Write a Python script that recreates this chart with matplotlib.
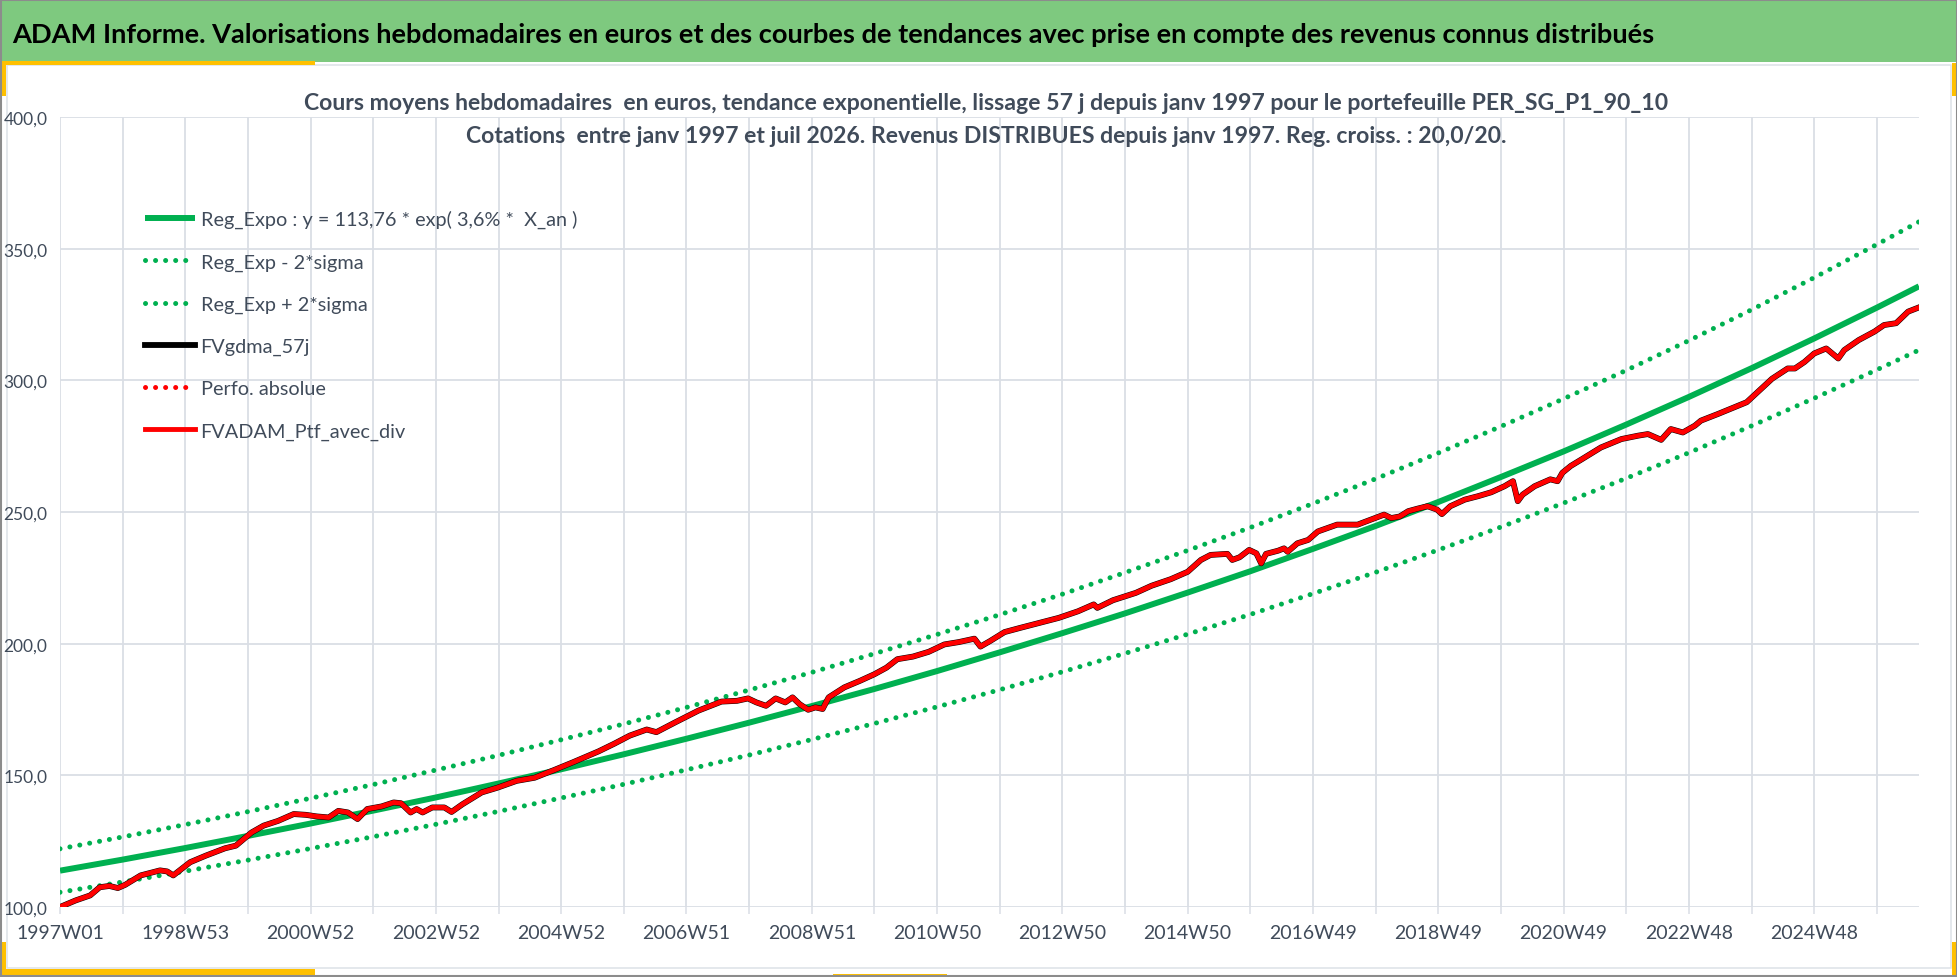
import numpy as np
import matplotlib
matplotlib.use('Agg')
import matplotlib.pyplot as plt
from matplotlib.patches import Rectangle

# ---- colours / fonts ------------------------------------------------------
GREEN = '#00B050'
RED = '#FF0000'
BLACK = '#000000'
HEADER = '#7EC97F'
YELLOW = '#FFC000'
GRID = '#DADEE5'
INK = '#404B5A'
NARROW = ['Liberation Sans Narrow', 'Lato', 'DejaVu Sans']
HEAD_FONT = ['Lato', 'DejaVu Sans']

# ---- data ----------------------------------------------------------------
# x = week index since 1997W01
red_weeks = [0, 13, 25, 33, 41, 48, 54, 67, 83, 89, 94, 108, 121, 137, 146,
             159, 169, 181, 194, 204, 213, 223, 231, 239, 247, 255, 267, 277,
             283, 291, 296, 301, 309, 319, 325, 334, 350, 363, 379, 394, 410,
             426, 447, 460, 473, 487, 495, 511, 530, 549, 562, 571, 578, 586,
             594, 602, 608, 614, 621, 627, 633, 638, 651, 664, 676, 686, 695,
             708, 721, 734, 746, 759, 764, 772, 784, 797, 813, 829, 845, 858,
             861, 874, 893, 906, 922, 936, 947, 955, 969, 973, 979, 987, 993,
             997, 1001, 1011, 1016, 1019, 1027, 1036, 1044, 1052, 1060, 1077,
             1088, 1099, 1105, 1112, 1119, 1127, 1135, 1143, 1147, 1154, 1166,
             1177, 1188, 1199, 1206, 1210, 1214, 1224, 1237, 1243, 1247, 1254,
             1263, 1279, 1296, 1310, 1318, 1329, 1337, 1347, 1357, 1362, 1376,
             1390, 1400, 1409, 1421, 1434, 1440, 1448, 1456, 1466, 1476, 1481,
             1493, 1506, 1514, 1524, 1534, 1543]
red_values = [100.0, 102.5, 104.4, 107.5, 108.0, 107.2, 108.4, 112.0, 113.9,
              113.5, 112.0, 117.0, 119.5, 122.3, 123.3, 128.3, 130.9, 132.7,
              135.3, 135.0, 134.4, 134.0, 136.5, 135.9, 133.4, 137.2, 138.2,
              139.7, 139.4, 135.9, 137.2, 135.9, 137.8, 137.8, 136.1, 139.0,
              143.5, 145.3, 147.9, 149.1, 152.0, 155.0, 159.1, 162.0, 165.1,
              167.4, 166.4, 170.2, 174.6, 178.0, 178.3, 179.2, 177.7, 176.4,
              179.2, 177.7, 179.6, 177.0, 174.9, 175.8, 175.2, 179.6, 183.4,
              185.9, 188.4, 190.9, 194.1, 195.1, 196.9, 199.7, 200.6, 201.9,
              198.9, 201.0, 204.4, 206.0, 207.9, 209.8, 212.3, 214.9, 213.6,
              216.5, 219.3, 222.0, 224.5, 227.3, 231.8, 233.7, 234.1, 231.8,
              232.8, 235.6, 234.3, 230.5, 234.1, 235.3, 236.2, 234.9, 238.1,
              239.4, 242.6, 243.9, 245.2, 245.2, 247.1, 249.0, 247.7, 248.3,
              250.3, 251.3, 252.2, 250.9, 249.2, 252.2, 254.7, 256.0, 257.5,
              259.8, 261.7, 254.1, 256.6, 259.8, 262.4, 261.7, 264.9, 267.5,
              270.0, 274.5, 277.7, 279.0, 279.6, 277.4, 281.5, 280.2, 282.8,
              284.7, 287.2, 289.8, 291.7, 295.5, 300.6, 304.5, 304.5, 307.0,
              310.2, 312.1, 308.3, 311.5, 315.3, 318.5, 321.0, 321.7, 326.1,
              327.7]
# 57-day smoothed series sits under the red one
gdma_weeks = red_weeks
gdma_values = red_values

trend_weeks = [0, 52, 104, 156, 208, 260, 312, 364, 416, 468, 520, 572, 624,
               676, 728, 780, 832, 884, 936, 988, 1040, 1092, 1144, 1196, 1248,
               1300, 1352, 1404, 1456, 1508, 1543]
trend_values = [113.8, 118.0, 122.4, 127.0, 131.7, 136.6, 141.6, 146.9, 152.3,
                158.0, 163.9, 170.0, 176.3, 182.8, 189.6, 196.7, 204.0, 211.5,
                219.4, 227.5, 236.0, 244.7, 253.8, 263.3, 273.0, 283.2, 293.7,
                304.6, 315.9, 327.6, 335.7]
lower_values = [105.6, 109.5, 113.6, 117.8, 122.2, 126.7, 131.4, 136.3, 141.4,
                146.6, 152.1, 157.7, 163.6, 169.7, 176.0, 182.5, 189.3, 196.3,
                203.6, 211.1, 219.0, 227.1, 235.6, 244.3, 253.4, 262.8, 272.5,
                282.7, 293.2, 304.0, 311.5]
upper_values = [122.1, 126.6, 131.3, 136.2, 141.3, 146.5, 152.0, 157.6, 163.5,
                169.5, 175.8, 182.4, 189.1, 196.2, 203.5, 211.0, 218.8, 227.0,
                235.4, 244.1, 253.2, 262.6, 272.4, 282.5, 293.0, 303.8, 315.1,
                326.8, 339.0, 351.6, 360.2]

x_labels = ['1997W01', '1998W53', '2000W52', '2002W52', '2004W52', '2006W51',
            '2008W51', '2010W50', '2012W50', '2014W50', '2016W49', '2018W49',
            '2020W49', '2022W48', '2024W48']
y_ticks = [100, 150, 200, 250, 300, 350, 400]

legend_labels = ['Reg_Expo : y = 113,76 * exp( 3,6% *  X_an )',
                 'Reg_Exp - 2*sigma', 'Reg_Exp + 2*sigma', 'FVgdma_57j',
                 'Perfo. absolue', 'FVADAM_Ptf_avec_div']

header = ('ADAM Informe. Valorisations hebdomadaires en euros et des courbes '
          'de tendances avec prise en compte des revenus connus distribués')
title1 = ('Cours moyens hebdomadaires  en euros, tendance exponentielle, '
          'lissage 57 j depuis janv 1997 pour le portefeuille PER_SG_P1_90_10')
title2 = ('Cotations  entre janv 1997 et juil 2026. Revenus DISTRIBUES depuis '
          'janv 1997. Reg. croiss. : 20,0/20.')

# ---- figure ---------------------------------------------------------------
W, H = 1958, 978
fig = plt.figure(figsize=(W / 100, H / 100), dpi=100, facecolor='white')

# frame, header band, yellow accents (pixel coordinates)
bg = fig.add_axes([0, 0, 1, 1], zorder=-10)
bg.set_xlim(0, W)
bg.set_ylim(H, 0)
bg.axis('off')
bg.add_patch(Rectangle((0, 0), W, 63, color=HEADER, lw=0))
bg.add_patch(Rectangle((7, 66), W - 14, 903, fill=False, ec='#DDE1E7', lw=1.1))
for (x0, y0, w, h) in [(0, 62, 315, 4), (0, 62, 6, 35), (W - 6, 64, 6, 33),
                       (0, 970, 315, 8), (0, 943, 6, 35), (W - 6, 943, 6, 35),
                       (833, 975, 114, 3)]:
    bg.add_patch(Rectangle((x0, y0), w, h, color=YELLOW, lw=0))
bg.add_patch(Rectangle((1, 1), W - 2, H - 2, fill=False, ec='#8C8C8C', lw=1.5))

fig.text(12 / W, 1 - 43 / H, header, fontsize=19.6, fontweight='bold',
         family=HEAD_FONT, color='black', va='baseline', ha='left')
fig.text(0.5036, 1 - 110 / H, title1, fontsize=16.6, fontweight='bold',
         family=NARROW, color=INK, va='baseline', ha='center')
fig.text(0.5036, 1 - 143 / H, title2, fontsize=16.6, fontweight='bold',
         family=NARROW, color=INK, va='baseline', ha='center')

ax = fig.add_axes([60 / W, 70 / H, 1859 / W, 790 / H], facecolor='none')

dot = (0, (0.01, 2.0))
ax.plot(trend_weeks, trend_values, color=GREEN, lw=4.3, solid_capstyle='butt',
        label=legend_labels[0])
ax.plot(trend_weeks, lower_values, color=GREEN, lw=3.6, ls=dot,
        dash_capstyle='round', label=legend_labels[1])
ax.plot(trend_weeks, upper_values, color=GREEN, lw=3.6, ls=dot,
        dash_capstyle='round', label=legend_labels[2])
ax.plot(gdma_weeks, gdma_values, color=BLACK, lw=4.2, label=legend_labels[3])
ax.plot([], [], color=RED, lw=3.6, ls=dot, dash_capstyle='round',
        label=legend_labels[4])
ax.plot(red_weeks, red_values, color=RED, lw=3.5, solid_joinstyle='round',
        label=legend_labels[5])

ax.set_xlim(0, 1543)
ax.set_ylim(100, 400)

xt = np.arange(0, 1509, 52)
ax.set_xticks(xt)
ax.set_xticklabels([x_labels[i // 2] if i % 2 == 0 else '' for i in range(len(xt))],
                   family=NARROW, fontsize=14, color=INK)
ax.set_yticks(y_ticks)
ax.set_yticklabels([f'{v:.1f}'.replace('.', ',') for v in y_ticks],
                   family=NARROW, fontsize=12.5, color=INK)
ax.tick_params(axis='x', length=5, width=1.1, color=GRID, pad=7)
ax.tick_params(axis='y', length=0, pad=9)
for s in ax.spines.values():
    s.set_visible(False)
ax.grid(True, color=GRID, lw=1.3)
ax.set_axisbelow(True)

leg = ax.legend(loc='upper left', bbox_to_anchor=(145 / W, 1 - 211 / H),
                bbox_transform=fig.transFigure, frameon=False, borderpad=0,
                borderaxespad=0, handlelength=2.5, handletextpad=0.3,
                labelspacing=1.26, prop={'family': NARROW, 'size': 14.3})
for t in leg.get_texts():
    t.set_color(INK)

fig.savefig('out.png', dpi=100, facecolor='white')
